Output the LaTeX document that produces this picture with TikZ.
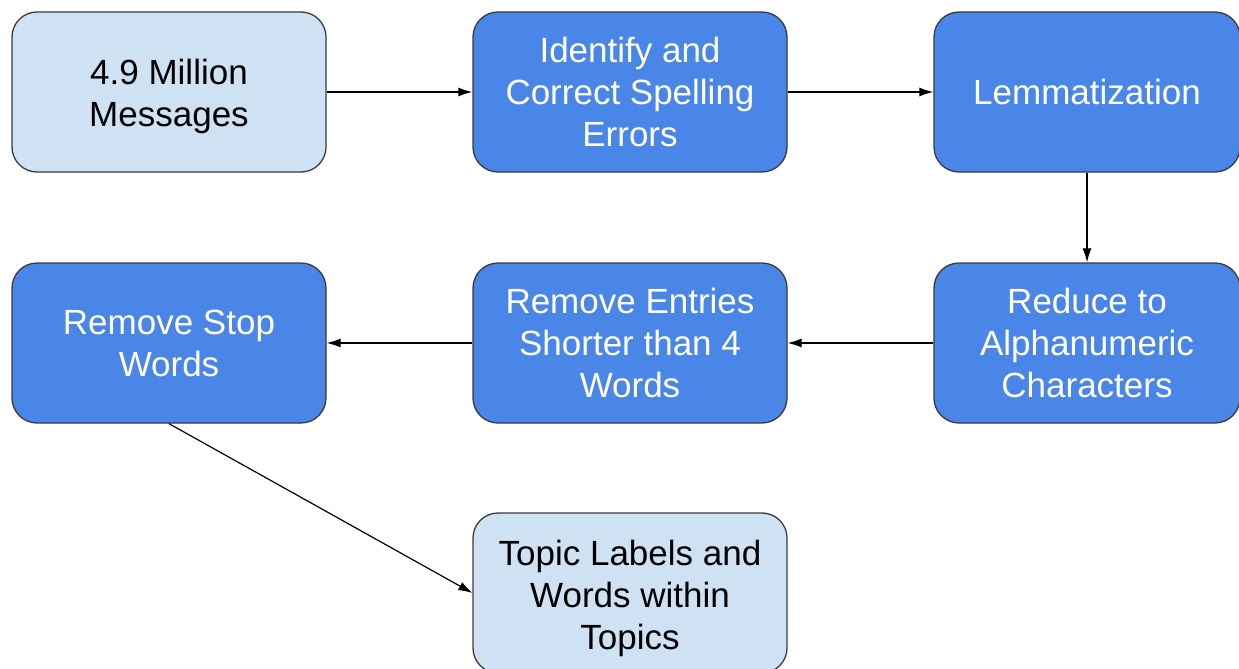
\documentclass[tikz,border=0pt]{standalone}
\usepackage{fontspec}
\setmainfont{Liberation Sans}
\usetikzlibrary{arrows.meta}
\definecolor{lightbox}{HTML}{CFE2F3}
\definecolor{darkbox}{HTML}{4A86E8}
\definecolor{edgegray}{HTML}{3A3A3A}
\begin{document}
\begin{tikzpicture}[x=1pt,y=-1pt,
  base/.style={draw=edgegray,line width=1.3pt,rounded corners=25pt,minimum height=160pt,
    align=center,inner sep=0pt,font=\fontsize{35}{42}\selectfont},
  lightnode/.style={base,fill=lightbox,text=black,minimum width=314pt},
  darknode/.style={base,fill=darkbox,text=white,minimum width=314pt},
  conn/.style={line width=1.2pt,-{Latex[length=14pt,width=9pt]}}]
\useasboundingbox (0,0) rectangle (1239,669);
\node[lightnode,text depth=0pt,text height=68pt] (msg) at (169,92) {4.9 Million\\Messages};
\node[darknode] (spell) at (630,92) {Identify and\\Correct Spelling\\Errors};
\node[darknode,minimum width=306pt] (lem) at (1087,92) {Lemmatization};
\node[darknode,minimum width=306pt] (alnum) at (1087,343) {Reduce to\\Alphanumeric\\Characters};
\node[darknode] (short) at (630,343) {Remove Entries\\Shorter than 4\\Words};
\node[darknode] (stop) at (169,343) {Remove Stop\\Words};
\node[lightnode,text depth=0pt,text height=112pt] (topic) at (630,593) {Topic Labels and\\Words within\\Topics};
\draw[conn] (msg.east) -- (spell.west);
\draw[conn] (spell.east) -- (lem.west);
\draw[conn] (lem.south) -- (alnum.north);
\draw[conn] (alnum.west) -- (short.east);
\draw[conn] (short.west) -- (stop.east);
\draw[conn] (stop.south) -- (topic.west);
\end{tikzpicture}
\end{document}
